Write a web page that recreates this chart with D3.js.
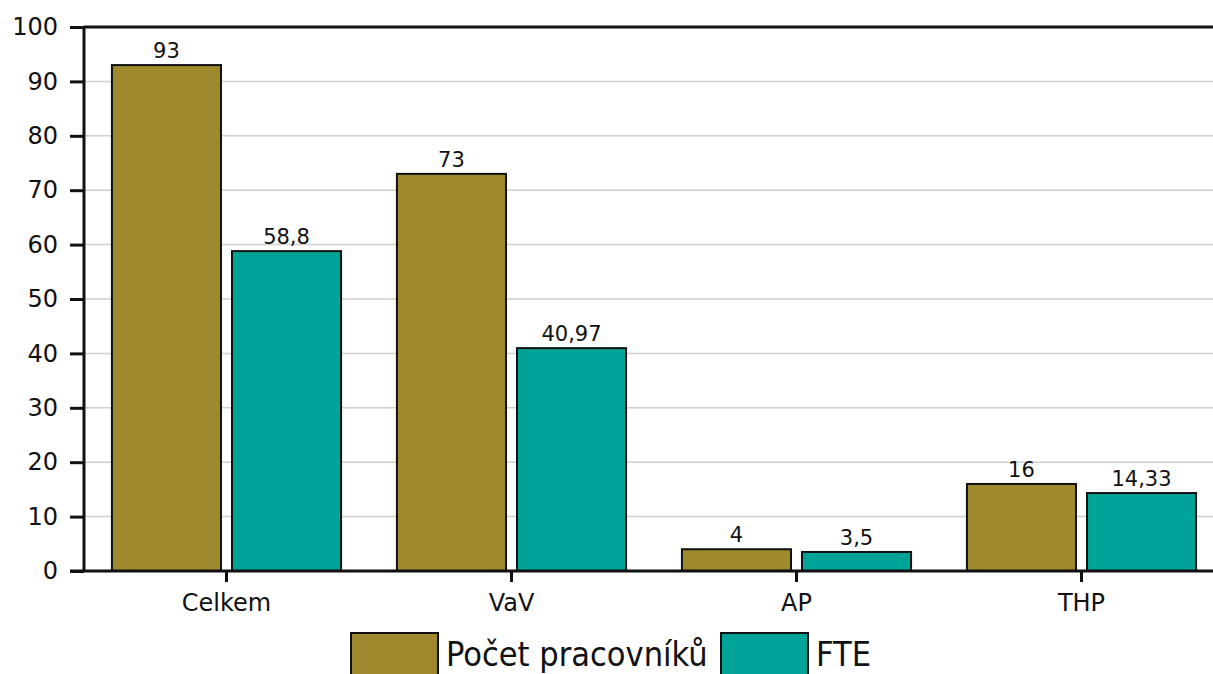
<!DOCTYPE html>
<html>
<head>
<meta charset="utf-8">
<script src="https://cdn.jsdelivr.net/npm/d3@7/dist/d3.min.js"></script>
<style>
  html, body { margin: 0; padding: 0; background: #fff; overflow: hidden; }
  svg { display: block; font-family: "DejaVu Sans", sans-serif; }
</style>
</head>
<body>
<svg id="chart" width="1213" height="674"></svg>
<script>
// Staff headcount vs. full-time equivalents per staff group
const categories = ["Celkem", "VaV", "AP", "THP"];
const seriesNames = ["Počet pracovníků", "FTE"];
const headcount = [93, 73, 4, 16];
const fte = [58.8, 40.97, 3.5, 14.33];
const yTicks = [0, 10, 20, 30, 40, 50, 60, 70, 80, 90, 100];
const colors = ["#9E8A2D", "#00A397"];

const seriesValues = [headcount, fte];
const rows = categories.map((c, i) => ({
  category: c,
  values: seriesNames.map((s, j) => ({ series: s, value: seriesValues[j][i] }))
}));

const svg = d3.select("#chart");
const plotLeft = 84, plotRight = 1224, plotTop = 27, plotBottom = 571;

const x = d3.scaleBand().domain(categories).range([plotLeft, plotRight])
  .paddingInner(0.196).paddingOuter(0.098);
const xInner = d3.scaleBand().domain(seriesNames).range([0, x.bandwidth()])
  .paddingInner(0.0917).paddingOuter(0);
const y = d3.scaleLinear().domain([0, 100]).range([plotBottom, plotTop]);
const color = d3.scaleOrdinal().domain(seriesNames).range(colors);

const fmt = v => String(v).replace(".", ",");

// horizontal grid
svg.append("g")
  .selectAll("line")
  .data(yTicks.filter(t => t > 0 && t < 100))
  .join("line")
  .attr("x1", plotLeft).attr("x2", 1213)
  .attr("y1", d => y(d)).attr("y2", d => y(d))
  .attr("stroke", "#cfcfcf").attr("stroke-width", 1.5);

// bars
const groups = svg.append("g")
  .selectAll("g")
  .data(rows)
  .join("g")
  .attr("transform", d => `translate(${x(d.category)},0)`);

groups.selectAll("rect")
  .data(d => d.values)
  .join("rect")
  .attr("x", d => xInner(d.series))
  .attr("width", xInner.bandwidth())
  .attr("y", d => y(d.value))
  .attr("height", d => y(0) - y(d.value))
  .attr("fill", d => color(d.series))
  .attr("stroke", "#111").attr("stroke-width", 2);

groups.selectAll("text")
  .data(d => d.values)
  .join("text")
  .attr("x", d => xInner(d.series) + xInner.bandwidth() / 2)
  .attr("y", d => y(d.value) - 7)
  .attr("text-anchor", "middle")
  .attr("font-size", 21)
  .attr("fill", "#111")
  .text(d => fmt(d.value));

// y axis
const yAxis = svg.append("g")
  .attr("transform", `translate(${plotLeft},0)`)
  .call(d3.axisLeft(y).tickValues(yTicks).tickSize(14).tickPadding(12));
yAxis.select(".domain").remove();
yAxis.selectAll(".tick line").attr("stroke", "#111").attr("stroke-width", 3);
yAxis.selectAll(".tick text").attr("font-size", 24).attr("fill", "#111")
  .attr("font-family", "DejaVu Sans");
svg.append("line")
  .attr("x1", plotLeft).attr("x2", plotLeft).attr("y1", plotTop).attr("y2", plotBottom)
  .attr("stroke", "#111").attr("stroke-width", 3);
// top frame line
svg.append("line")
  .attr("x1", plotLeft).attr("x2", 1213).attr("y1", y(100)).attr("y2", y(100))
  .attr("stroke", "#111").attr("stroke-width", 3);

// x axis
const xAxis = svg.append("g")
  .attr("transform", `translate(0,${plotBottom})`)
  .call(d3.axisBottom(x).tickSize(11).tickPadding(12).tickSizeOuter(0));
xAxis.select(".domain").remove();
xAxis.selectAll(".tick line").attr("stroke", "#111").attr("stroke-width", 3);
xAxis.selectAll(".tick text").attr("font-size", 24).attr("fill", "#111")
  .attr("font-family", "DejaVu Sans");
svg.append("line")
  .attr("x1", 70).attr("x2", 1213).attr("y1", plotBottom).attr("y2", plotBottom)
  .attr("stroke", "#111").attr("stroke-width", 3);

// legend
const legend = svg.append("g");
const legendItems = [
  { name: seriesNames[0], x: 351, w: 87 },
  { name: seriesNames[1], x: 721, w: 87 }
];
legendItems.forEach(it => {
  legend.append("rect")
    .attr("x", it.x).attr("y", 633).attr("width", it.w).attr("height", 50)
    .attr("fill", color(it.name)).attr("stroke", "#111").attr("stroke-width", 2);
  legend.append("text")
    .attr("x", it.x + it.w + 8).attr("y", 666)
    .attr("font-size", 34)
    .attr("font-family", "DejaVu Sans Condensed, DejaVu Sans")
    .attr("font-stretch", "condensed")
    .attr("fill", "#111")
    .text(it.name);
});
</script>
</body>
</html>
